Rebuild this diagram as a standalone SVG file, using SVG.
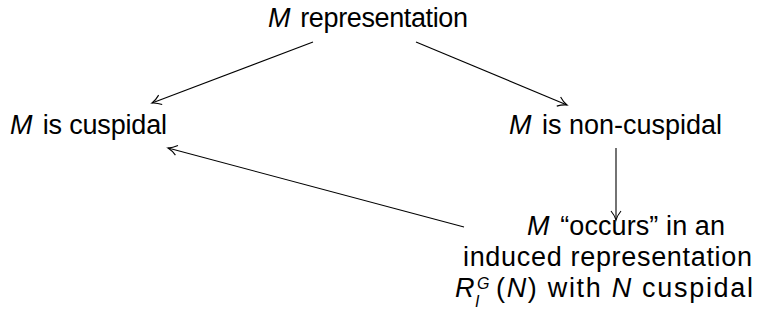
<svg xmlns="http://www.w3.org/2000/svg" width="761" height="323" viewBox="0 0 761 323">
  <style>
    text { font-family: "Liberation Sans", "DejaVu Sans", sans-serif; font-size: 27px; fill: #000; }
    .it { font-style: italic; }
    .sm { font-size: 16px; }
    .edge { fill: none; stroke: #000; stroke-width: 1.1; marker-end: url(#to); }
  </style>
  <defs>
    <marker id="to" viewBox="-10 -6 12 12" refX="0" refY="0" markerWidth="12" markerHeight="12" markerUnits="userSpaceOnUse" orient="auto">
      <path d="M -9 -5 C -6 -2.5 -2 -0.6 0 0 C -2 0.6 -6 2.5 -9 5" fill="none" stroke="#000" stroke-width="1.1"/>
    </marker>
  </defs>

  <g id="connectors">
    <path class="edge" d="M 313 42 L 152 103"/>
    <path class="edge" d="M 416 42 L 567 105"/>
    <path class="edge" d="M 616 148 L 616 220"/>
    <path class="edge" d="M 464 227 L 168 148"/>
  </g>

  <g id="node-representation">
    <text x="268" y="27" textLength="200" lengthAdjust="spacing"><tspan class="it">M</tspan><tspan dx="3"> representation</tspan></text>
  </g>

  <g id="node-cuspidal">
    <text x="10" y="134" textLength="157" lengthAdjust="spacing"><tspan class="it">M</tspan><tspan dx="3"> is cuspidal</tspan></text>
  </g>

  <g id="node-noncuspidal">
    <text x="509" y="134" textLength="213" lengthAdjust="spacing"><tspan class="it">M</tspan><tspan dx="3"> is non-cuspidal</tspan></text>
  </g>

  <g id="node-induced">
    <text x="527" y="235" textLength="198" lengthAdjust="spacing"><tspan class="it">M</tspan><tspan dx="3"> “occurs” in an</tspan></text>
    <text x="463" y="266" textLength="289" lengthAdjust="spacing">induced representation</text>
    <text class="it" x="455" y="297">R</text>
    <text class="it sm" x="477" y="289">G</text>
    <text class="it sm" x="475" y="307">I</text>
    <text x="496" y="297" textLength="257" lengthAdjust="spacing">(<tspan class="it">N</tspan>) with <tspan class="it">N</tspan> cuspidal</text>
  </g>
</svg>
